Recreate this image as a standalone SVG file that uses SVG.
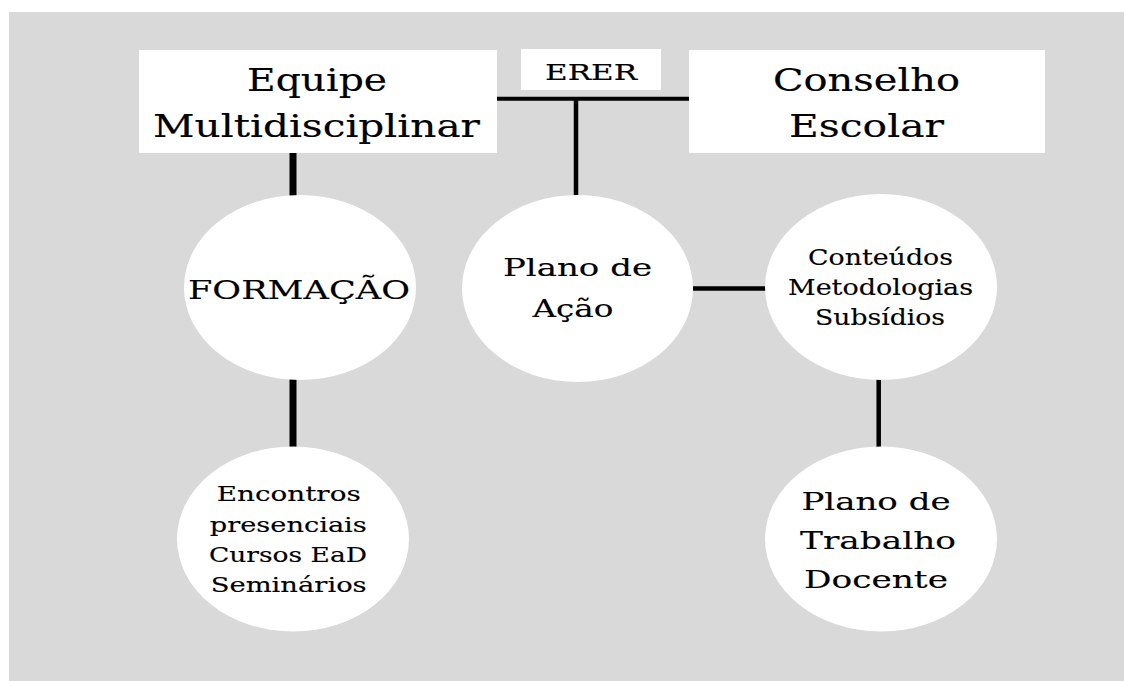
<svg xmlns="http://www.w3.org/2000/svg" width="1124" height="681" viewBox="0 0 1124 681">
<style>
.box{fill:#ffffff}
.node{fill:#ffffff}
.t{font-family:"DejaVu Serif","Liberation Serif",serif;fill:#000000;stroke:#000000;stroke-width:0.15;text-anchor:middle}
.c{stroke:#000000;fill:none}
</style>
<rect x="0" y="0" width="1124" height="681" fill="#ffffff"/>
<rect x="9" y="12" width="1115" height="669" fill="#d9d9d9"/>
<g id="connectors">
<line class="c" x1="293" y1="153" x2="293" y2="196" stroke-width="7"/>
<line class="c" x1="497" y1="98.8" x2="689" y2="98.8" stroke-width="4"/>
<line class="c" x1="576" y1="98" x2="576" y2="196" stroke-width="4.5"/>
<line class="c" x1="693" y1="288.5" x2="766" y2="288.5" stroke-width="4.5"/>
<line class="c" x1="293" y1="379" x2="293" y2="447" stroke-width="7"/>
<line class="c" x1="878.7" y1="379" x2="878.7" y2="447" stroke-width="4.5"/>
</g>
<g id="equipe">
<rect class="box" x="139" y="50" width="358" height="103"/>
<text class="t" x="317" y="91" font-size="31" textLength="140" lengthAdjust="spacingAndGlyphs">Equipe</text>
<text class="t" x="316.5" y="137" font-size="31" textLength="327" lengthAdjust="spacingAndGlyphs">Multidisciplinar</text>
</g>
<g id="erer">
<rect class="box" x="521" y="49" width="140" height="41"/>
<text class="t" x="591" y="80" font-size="23" textLength="92" lengthAdjust="spacingAndGlyphs">ERER</text>
</g>
<g id="conselho">
<rect class="box" x="689" y="50" width="356" height="103"/>
<text class="t" x="866.5" y="91" font-size="31" textLength="187" lengthAdjust="spacingAndGlyphs">Conselho</text>
<text class="t" x="866.5" y="137" font-size="31" textLength="155" lengthAdjust="spacingAndGlyphs">Escolar</text>
</g>
<g id="formacao">
<ellipse class="node" cx="300" cy="287.5" rx="116" ry="92.5"/>
<text class="t" x="299" y="299" font-size="26" textLength="222" lengthAdjust="spacingAndGlyphs">FORMAÇÃO</text>
</g>
<g id="plano-acao">
<ellipse class="node" cx="577.5" cy="288.5" rx="115.5" ry="93.5"/>
<text class="t" x="577.5" y="276" font-size="25" textLength="149" lengthAdjust="spacingAndGlyphs">Plano de</text>
<text class="t" x="573" y="317" font-size="25" textLength="81" lengthAdjust="spacingAndGlyphs">Ação</text>
</g>
<g id="conteudos">
<ellipse class="node" cx="881" cy="287" rx="116" ry="93"/>
<text class="t" x="880.5" y="265" font-size="23" textLength="145" lengthAdjust="spacingAndGlyphs">Conteúdos</text>
<text class="t" x="880.5" y="295" font-size="23" textLength="185" lengthAdjust="spacingAndGlyphs">Metodologias</text>
<text class="t" x="880" y="325" font-size="23" textLength="130" lengthAdjust="spacingAndGlyphs">Subsídios</text>
</g>
<g id="encontros">
<ellipse class="node" cx="293" cy="539" rx="116" ry="92.5"/>
<text class="t" x="288.7" y="500.7" font-size="21" textLength="144" lengthAdjust="spacingAndGlyphs">Encontros</text>
<text class="t" x="288.3" y="531.7" font-size="21" textLength="157" lengthAdjust="spacingAndGlyphs">presenciais</text>
<text class="t" x="288" y="561.7" font-size="21" textLength="158" lengthAdjust="spacingAndGlyphs">Cursos EaD</text>
<text class="t" x="288.7" y="592" font-size="21" textLength="156" lengthAdjust="spacingAndGlyphs">Seminários</text>
</g>
<g id="plano-trabalho">
<ellipse class="node" cx="881" cy="539" rx="116" ry="92.5"/>
<text class="t" x="876" y="510" font-size="25" textLength="149" lengthAdjust="spacingAndGlyphs">Plano de</text>
<text class="t" x="878" y="549.3" font-size="25" textLength="156" lengthAdjust="spacingAndGlyphs">Trabalho</text>
<text class="t" x="876" y="588.3" font-size="25" textLength="144" lengthAdjust="spacingAndGlyphs">Docente</text>
</g>
</svg>
